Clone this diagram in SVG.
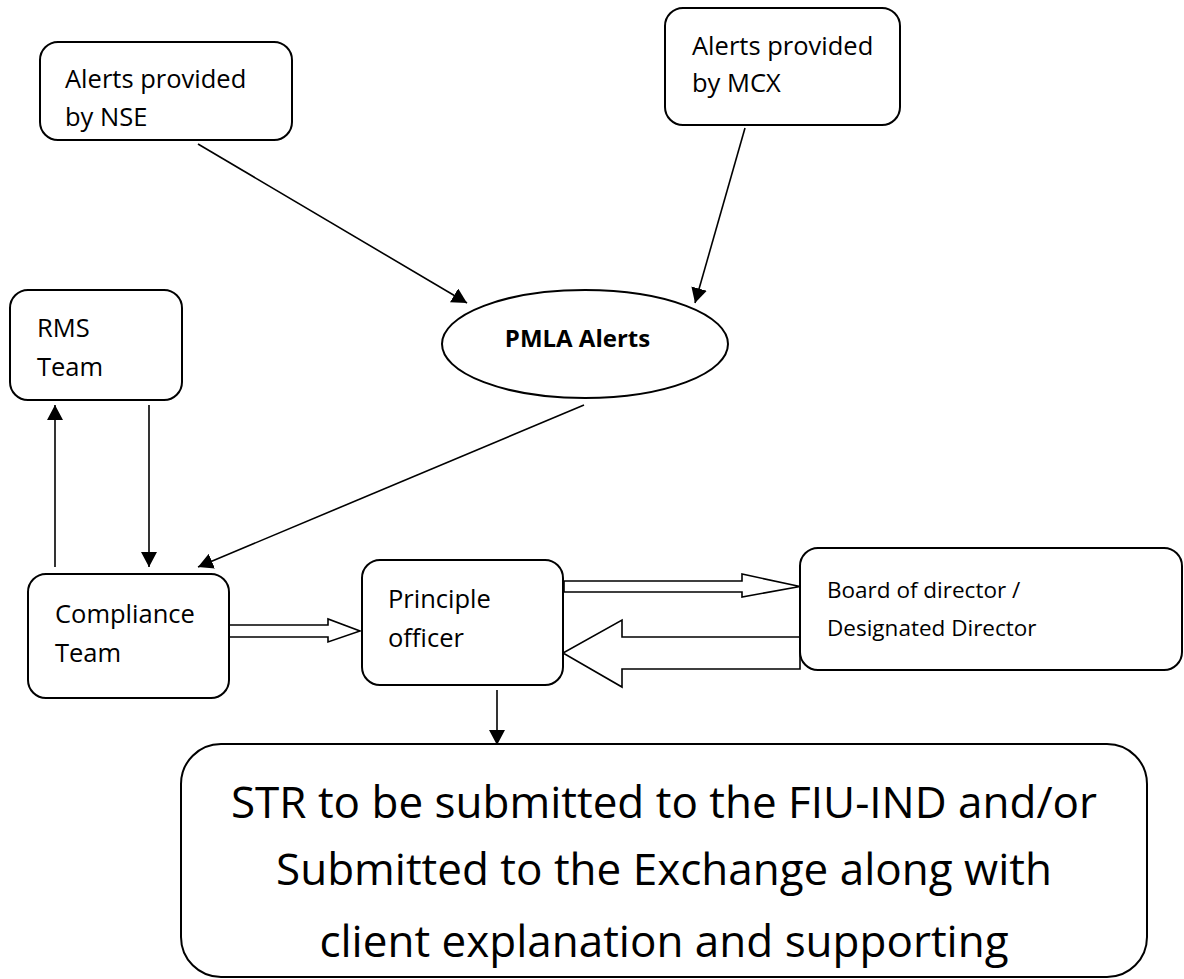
<svg xmlns="http://www.w3.org/2000/svg" width="1184" height="979" viewBox="0 0 1184 979">
<style>
  .box { fill: #fff; stroke: #000; stroke-width: 2; }
  .t { font-family: "Open Sans", "Liberation Sans", sans-serif; font-size: 25.5px; fill: #000; }
  .tb { font-family: "Open Sans", "Liberation Sans", sans-serif; font-size: 22.5px; fill: #000; }
  .tp { font-family: "Open Sans", "Liberation Sans", sans-serif; font-size: 24px; font-weight: bold; fill: #000; }
  .ts { font-family: "Open Sans", "Liberation Sans", sans-serif; font-size: 44px; fill: #000; }
  .ln { stroke: #000; stroke-width: 1.6; fill: none; marker-end: url(#ah); }
  .blk { fill: #fff; stroke: #000; stroke-width: 1.6; stroke-linejoin: miter; }
</style>
<defs>
  <marker id="ah" markerUnits="userSpaceOnUse" markerWidth="16" markerHeight="16" refX="15" refY="8" orient="auto">
    <path d="M0,0 L15,8 L0,16 z" fill="#000"/>
  </marker>
</defs>
<rect width="1184" height="979" fill="#fff"/>

<g id="connectors">
  <line class="ln" x1="198" y1="144" x2="467" y2="303"/>
  <line class="ln" x1="745" y1="128" x2="695" y2="303"/>
  <line class="ln" x1="584" y1="405" x2="198" y2="567"/>
  <line class="ln" x1="55" y1="567" x2="55" y2="405"/>
  <line class="ln" x1="149" y1="405" x2="149" y2="567"/>
  <line class="ln" x1="497" y1="690" x2="497" y2="745"/>
  <polygon class="blk" points="229,625 328,625 328,619 360,631 328,642 328,637 229,637"/>
  <polygon class="blk" points="564,581 742,581 742,574 800,586.5 742,597 742,592 564,592"/>
  <polygon class="blk" points="800,637 622,637 622,620 563,653 622,687 622,669 800,669"/>
</g>

<g id="nse">
  <rect class="box" x="40" y="42" width="252" height="98" rx="18"/>
  <text class="t" x="65" y="88">Alerts provided</text>
  <text class="t" x="65" y="126">by NSE</text>
</g>

<g id="mcx">
  <rect class="box" x="665" y="8" width="235" height="117" rx="18"/>
  <text class="t" x="692" y="55">Alerts provided</text>
  <text class="t" x="692" y="92">by MCX</text>
</g>

<g id="pmla">
  <ellipse class="box" cx="585" cy="344" rx="143" ry="54"/>
  <text class="tp" x="577.5" y="347" text-anchor="middle">PMLA Alerts</text>
</g>

<g id="rms">
  <rect class="box" x="10" y="290" width="172" height="110" rx="18"/>
  <text class="t" x="37" y="337">RMS</text>
  <text class="t" x="37" y="376">Team</text>
</g>

<g id="compliance">
  <rect class="box" x="28" y="574" width="201" height="124" rx="18"/>
  <text class="t" x="55" y="623">Compliance</text>
  <text class="t" x="55" y="662">Team</text>
</g>

<g id="principle">
  <rect class="box" x="362" y="560" width="201" height="125" rx="18"/>
  <text class="t" x="388" y="608">Principle</text>
  <text class="t" x="388" y="647">officer</text>
</g>

<g id="board">
  <rect class="box" x="800" y="548" width="382" height="122" rx="18"/>
  <text class="tb" x="827" y="598">Board of director /</text>
  <text class="tb" x="827" y="636">Designated Director</text>
</g>

<g id="str">
  <rect class="box" x="181" y="744" width="966" height="233" rx="40"/>
  <text class="ts" x="664" y="818" text-anchor="middle">STR to be submitted to the FIU-IND and/or</text>
  <text class="ts" x="664" y="885" text-anchor="middle">Submitted to the Exchange along with</text>
  <text class="ts" x="664" y="957" text-anchor="middle">client explanation and supporting</text>
</g>
</svg>
